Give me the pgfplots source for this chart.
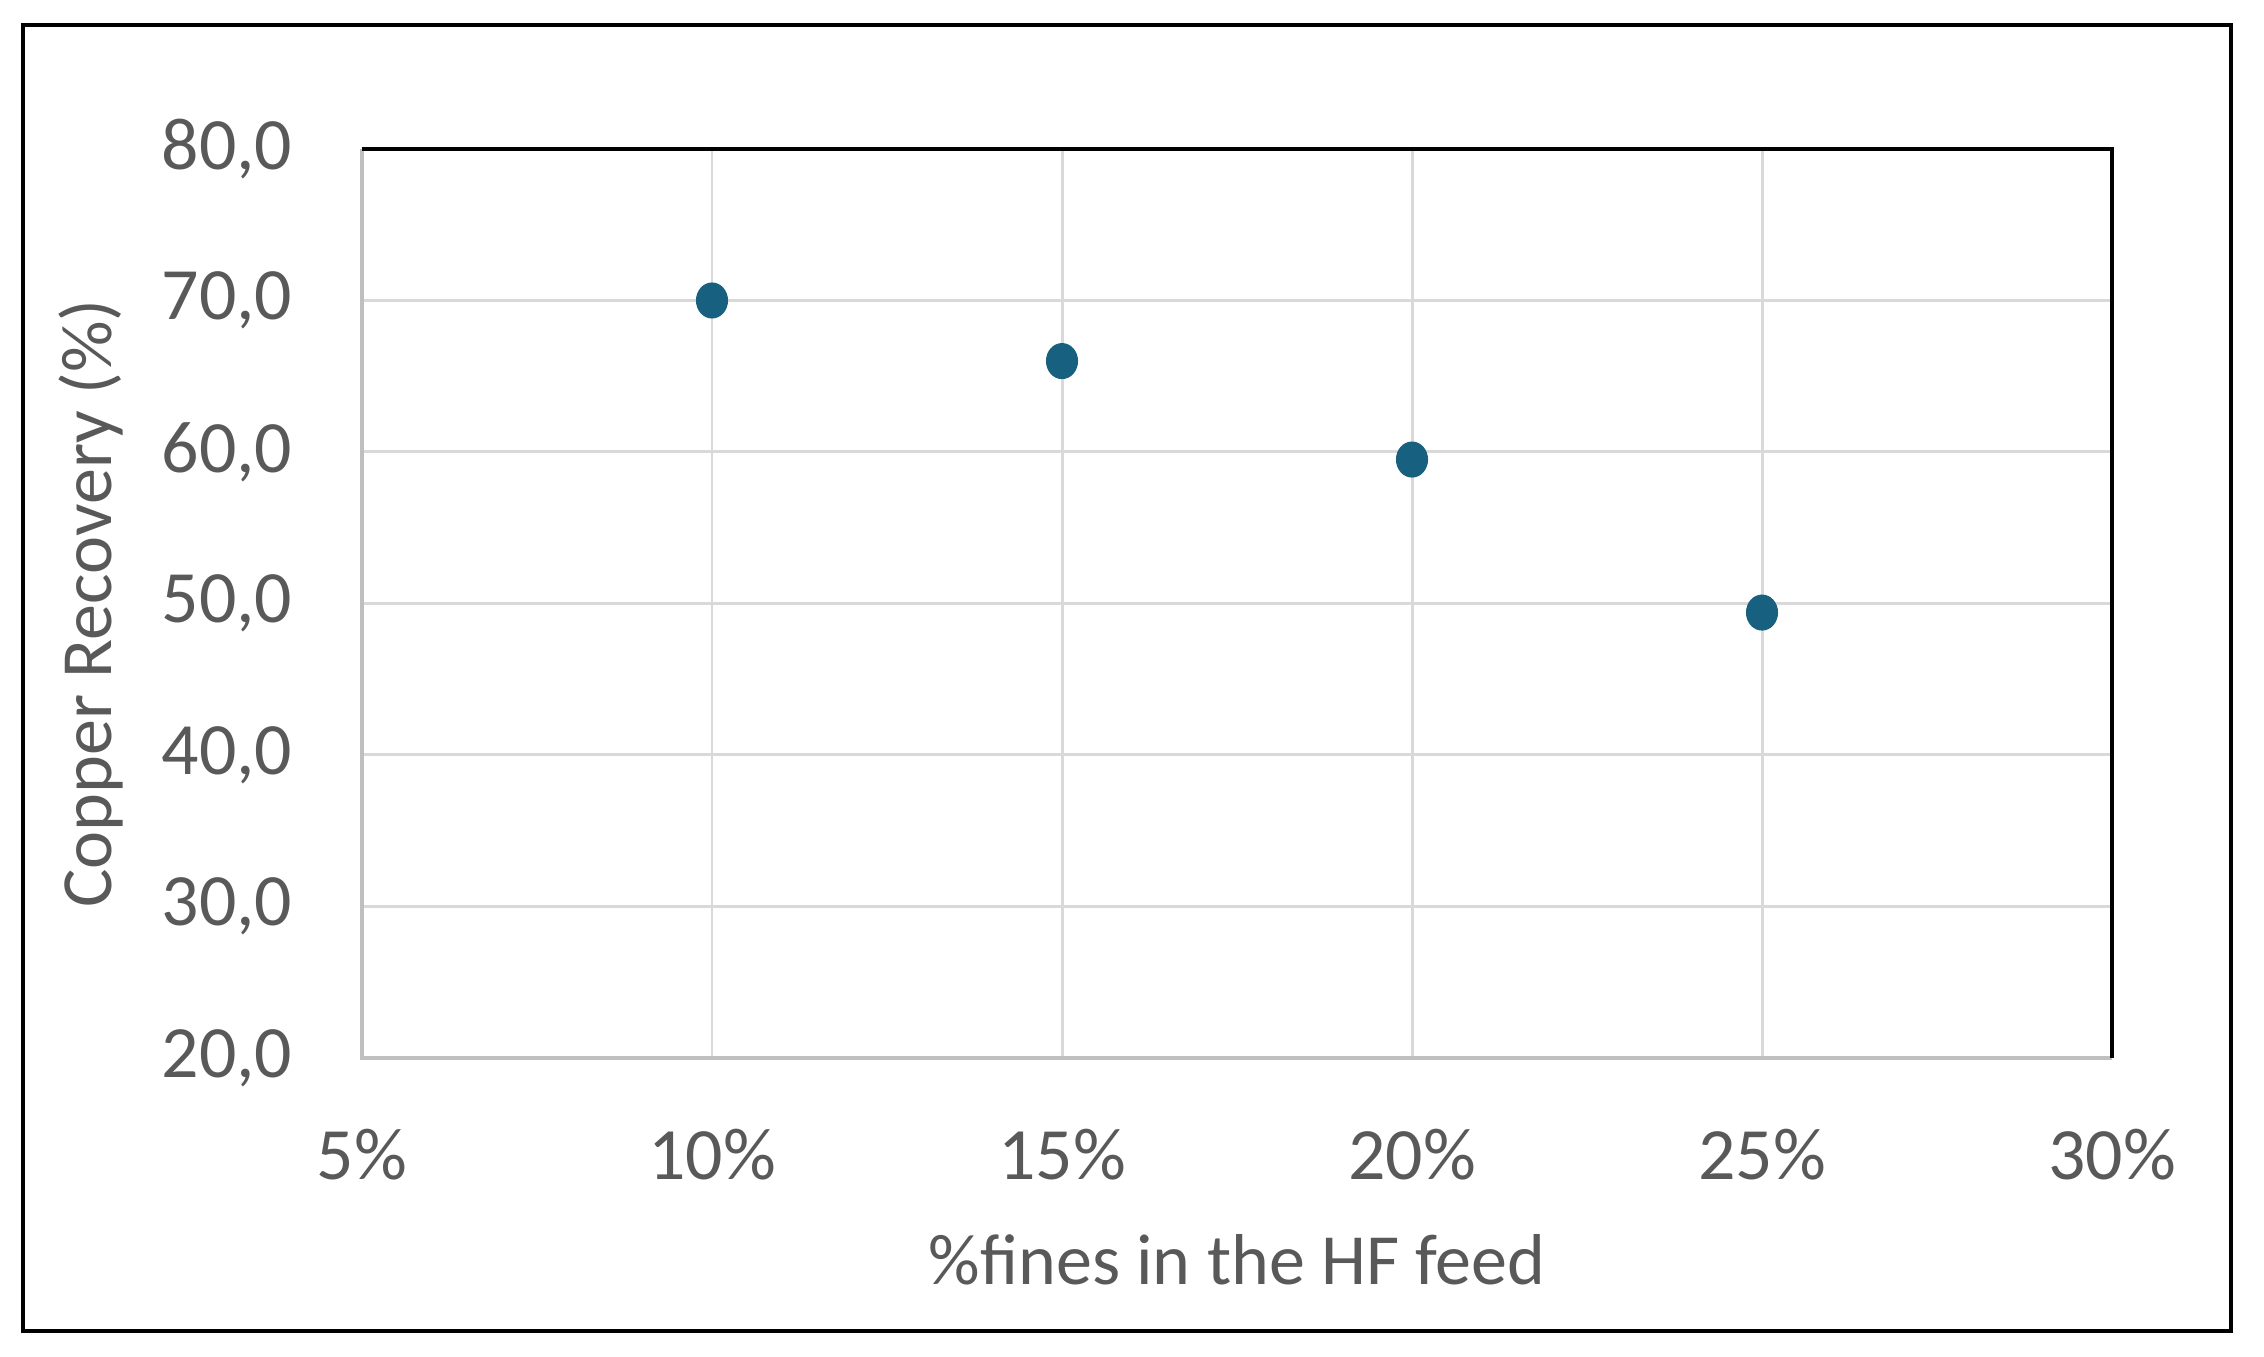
\documentclass[border=0pt]{standalone}
\usepackage{pgfplots}
\pgfplotsset{compat=1.18}
\usepackage{fontspec}
\setmainfont{Carlito}
\definecolor{txt}{HTML}{595959}
\definecolor{grd}{HTML}{D9D9D9}
\definecolor{axg}{HTML}{BFBFBF}
\definecolor{pt}{HTML}{17607F}
\begin{document}
\begin{tikzpicture}
\begin{axis}[
  scale only axis,
  width=17.5cm, height=9.09cm,
  xmin=5, xmax=30, ymin=20, ymax=80,
  xtick={5,10,15,20,25,30},
  xticklabels={5\%,10\%,15\%,20\%,25\%,30\%},
  ytick={20,30,40,50,60,70,80},
  /pgf/number format/assume math mode=true,
  /pgf/number format/fixed,
  /pgf/number format/fixed zerofill,
  /pgf/number format/precision=1,
  /pgf/number format/use comma,
  grid=major,
  major grid style={grd, line width=0.85pt},
  tick style={draw=none},
  axis line style={draw=none},
  ticklabel style={font=\fontsize{21}{25}\selectfont, text=txt},
  xticklabel style={anchor=center, yshift=-0.97cm},
  yticklabel style={anchor=east, inner sep=0pt, xshift=-0.69cm},
  xlabel={\%fines in the HF feed},
  ylabel={Copper Recovery (\%)},
  label style={font=\fontsize{20.5}{24}\selectfont, text=txt},
  xlabel style={at={(rel axis cs:0.5,0)}, anchor=center, yshift=-2.02cm},
  ylabel style={at={(rel axis cs:0,0.5)}, anchor=center, rotate=0, yshift=2.71cm},
  clip=false,
]
\addplot[only marks, mark=*, mark size=0.165cm, mark options={draw=pt, fill=pt, xscale=0.93, yscale=1.05}] coordinates {
  (10,70.0) (15,66.0) (20,59.5) (25,49.4)
};
\draw[axg, line width=1pt] (rel axis cs:0,1) -- (rel axis cs:0,0) -- (rel axis cs:1,0);
\draw[black, line width=1.2pt] (rel axis cs:0,1) -- (rel axis cs:1,1) -- (rel axis cs:1,0);
\coordinate (ll) at (rel axis cs:0,0);
\coordinate (ur) at (rel axis cs:1,1);
\end{axis}
\draw[black, line width=1.3pt] ([xshift=-3.39cm, yshift=-2.73cm]ll) rectangle ([xshift=1.19cm, yshift=1.24cm]ur);
\path ([xshift=-3.62cm, yshift=-2.99cm]ll) rectangle ([xshift=1.52cm, yshift=1.49cm]ur);
\end{tikzpicture}
\end{document}
